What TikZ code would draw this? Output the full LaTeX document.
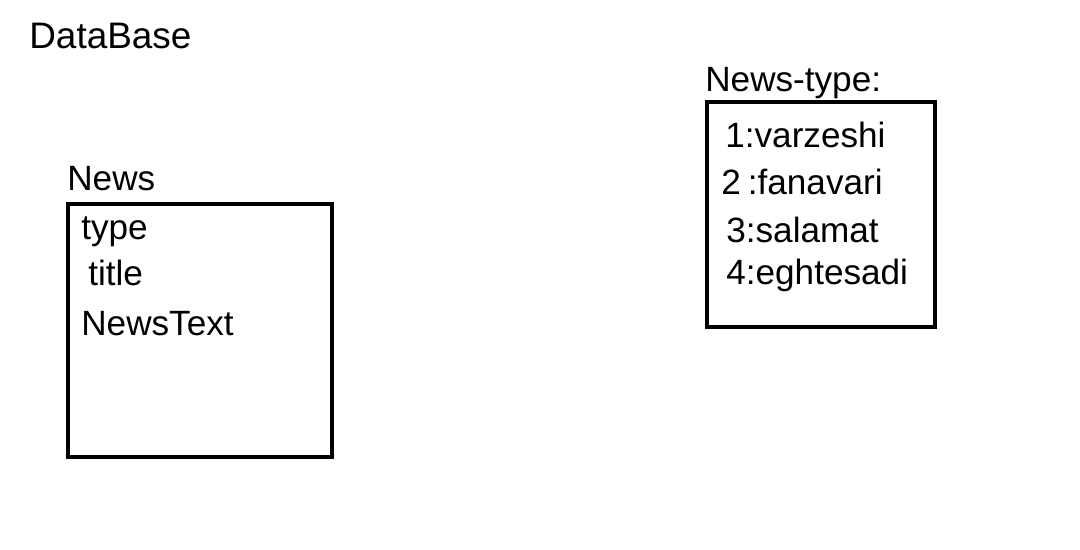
\documentclass[tikz,border=0pt]{standalone}
\usepackage{fontspec}
\setmainfont{Liberation Sans}
\usetikzlibrary{positioning}

\begin{document}
\begin{tikzpicture}[x=0.02cm, y=-0.02cm]
	\tikzset{
		txt/.style={anchor=base west, inner sep=0pt, font=\fontsize{20}{24}\selectfont},
		box/.style={draw=black, line width=0.08cm}
	}
	\useasboundingbox (0,0) rectangle (1080,549);
	
	% Координаты углов таблиц
	\coordinate (N1) at (68,204);
	\coordinate (N2) at (332,457);
	\coordinate (T1) at (707,102);
	\coordinate (T2) at (935,327);
	
	% Рамки таблиц
	\draw[box] (N1) rectangle (N2);
	\draw[box] (T1) rectangle (T2);
	
	% Заголовки
	\node[txt, font=\fontsize{21}{25}\selectfont] (db) at (29,48) {DataBase};
	\node[txt] (news) at (67,190) {News};
	\node[txt] (ntype) at (705,91) {News-type:};
	
	% Поля таблицы News
	\node[txt] (type) at (81,239) {type};
	\node[txt] (title) at (88,285) {title};
	\node[txt] (text) at (81,335) {NewsText};
	
	% Поля таблицы News-type
	\node[txt] (t1) at (725,147) {1:varzeshi};
	\node[txt] (t2) at (721,194) {2\hspace{0.2em}:fanavari};
	\node[txt] (t3) at (726,242) {3:salamat};
	\node[txt] (t4) at (726,284) {4:eghtesadi};
\end{tikzpicture}
\end{document}
